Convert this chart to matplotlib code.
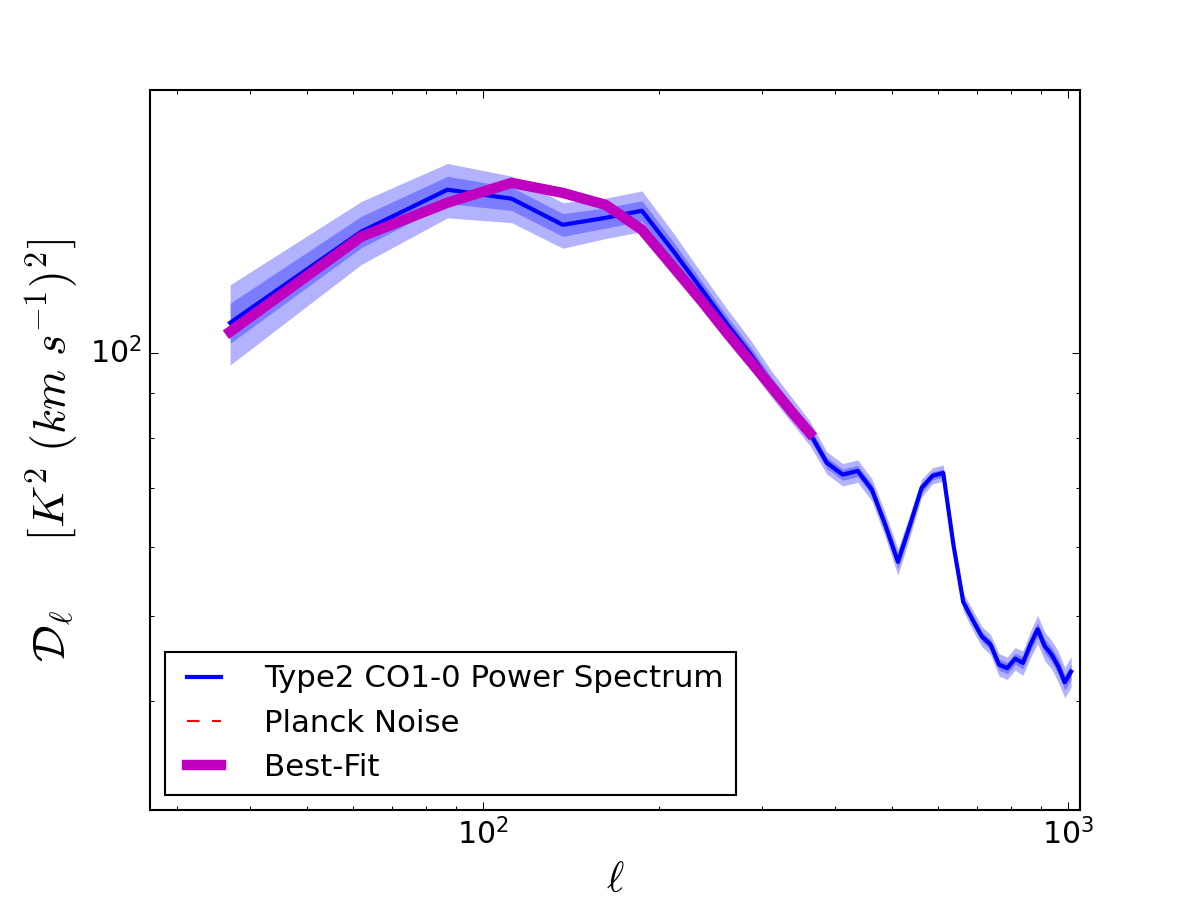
import matplotlib
matplotlib.use('Agg')
import matplotlib.pyplot as plt
from matplotlib.ticker import NullFormatter
import numpy as np

plt.style.use('classic')

# multipole bins (ell)
ell = [37, 62, 87, 112, 137, 162, 187, 212, 237, 262, 287, 312, 337, 362,
       387, 412, 437, 462, 487, 512, 537, 562, 587, 612, 637, 662, 687, 712,
       737, 762, 787, 812, 837, 862, 887, 912, 937, 962, 987, 1012]

# CO1-0 power spectrum D_ell
dl = [108.3, 137.7, 153.8, 150.2, 140.2, 142.8, 145.5, 130.6, 118.1, 107.7,
      99.6, 92.0, 86.1, 81.0, 74.9, 72.6, 73.3, 69.8, 63.6, 57.7,
      63.6, 70.1, 72.4, 72.9, 60.3, 51.9, 49.5, 47.4, 46.4, 44.0,
      43.6, 44.7, 44.2, 46.4, 48.3, 46.2, 45.2, 43.8, 42.0, 43.2]

# 1-sigma error
err = [5.7, 5.7, 5.5, 4.6, 4.2, 3.8, 3.9, 3.2, 2.5, 2.2,
       1.9, 1.6, 1.44, 1.3, 1.1, 1.07, 1.08, 1.03, 1.02, 1.0,
       0.93, 0.84, 0.77, 0.78, 0.65, 0.62, 0.66, 0.63, 0.62, 0.65,
       0.64, 0.66, 0.71, 0.81, 0.91, 0.87, 0.85, 0.88, 0.84, 0.87]

# best-fit model
ell_fit = [37, 62, 87, 112, 137, 162, 187, 212, 237, 262, 287, 312, 337, 362]
dl_fit = [105.8, 135.9, 148.6, 156.6, 152.5, 147.8, 138.4, 125.2, 114.5,
          105.2, 97.7, 91.3, 85.7, 81.0]

ell = np.array(ell)
dl = np.array(dl)
err = np.array(err)

fig = plt.figure(figsize=(8, 6))
ax = fig.add_subplot(111)

ax.fill_between(ell, dl - 2 * err, dl + 2 * err, color='b', alpha=0.3, lw=0)
ax.fill_between(ell, dl - err, dl + err, color='b', alpha=0.3, lw=0)
ax.plot(ell, dl, 'b-', lw=2, label='Type2 CO1-0 Power Spectrum')
ax.plot([], [], 'r--', lw=1, label='Planck Noise')
ax.plot(ell_fit, dl_fit, 'm-', lw=5, label='Best-Fit')

ax.set_xscale('log')
ax.set_yscale('log')
ax.set_xlim(27, 1048)
ax.set_ylim(30, 200)
ax.xaxis.set_minor_formatter(NullFormatter())
ax.yaxis.set_minor_formatter(NullFormatter())
ax.tick_params(axis='both', which='major', labelsize=14.4)

ax.set_xlabel(r'$\ell$', fontsize=20, labelpad=4)
ax.set_ylabel(r'$\mathcal{D}_\ell \quad\ \ \left[K^2\ (km\ s^{-1})^2\right]$', fontsize=22)

ax.legend(loc='lower left', fontsize=14.8, handlelength=1.7, handletextpad=1.1)

plt.savefig('out.png', dpi=150)
